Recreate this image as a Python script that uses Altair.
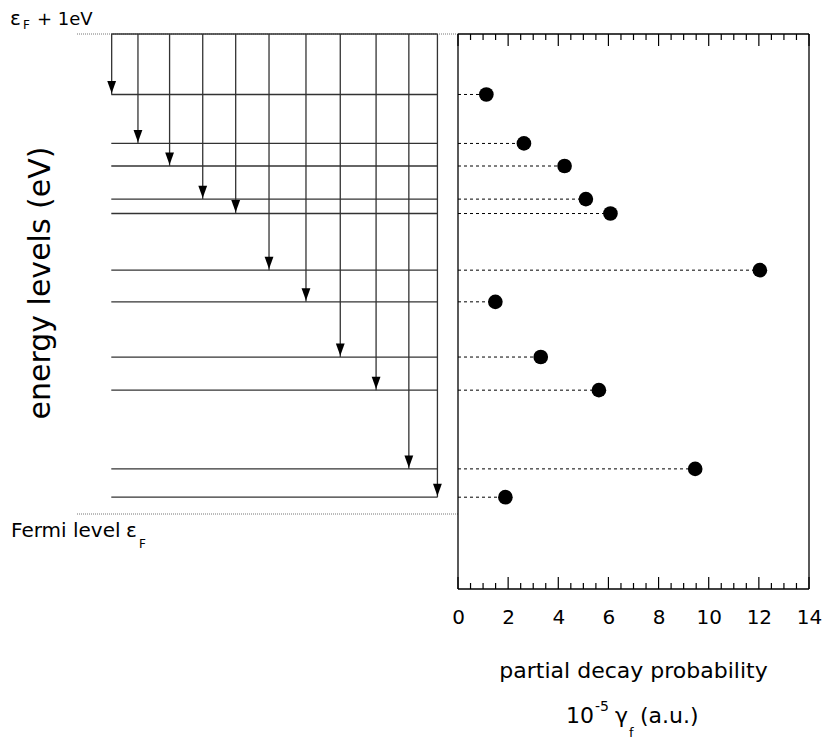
import altair as alt
import pandas as pd

# Energy of each level above the Fermi level (eV)
level_energy = [0.874, 0.772, 0.725, 0.656, 0.626, 0.508, 0.442, 0.327, 0.258, 0.094, 0.035]
# Partial decay probability of each level (10^-5 gamma_f, a.u.)
decay_prob = [1.13, 2.63, 4.25, 5.10, 6.08, 12.04, 1.49, 3.30, 5.62, 9.46, 1.89]
# Horizontal position of each transition arrow in the level scheme (0-100)
arrow_pos = [9.1, 16.0, 24.3, 33.0, 41.65, 50.4, 60.1, 69.1, 78.5, 87.1, 94.6]
# Extent of the drawn level lines in the scheme (0-100)
level_span = [9.0, 94.6]
# Reference energies: eF + 1 eV (start of all transitions) and the Fermi level
reference_energy = [1.0, 0.0]
# x-axis ticks of the probability panel
major_ticks = [0, 2, 4, 6, 8, 10, 12, 14]
minor_ticks = [0.5, 1.0, 1.5, 2.5, 3.0, 3.5, 4.5, 5.0, 5.5, 6.5, 7.0, 7.5,
               8.5, 9.0, 9.5, 10.5, 11.0, 11.5, 12.5, 13.0, 13.5]

y_title = "energy levels (eV)"
top_label = ["ε", "F", "+ 1eV"]
fermi_label = ["Fermi level", "ε", "F"]
x_title_1 = "partial decay probability"
x_title_2 = ["10", "-5", "γ", "f", "(a.u.)"]

FONT = "DejaVu Sans"
E_LOW, E_HIGH = -0.15625, 1.0
X_LOW, X_HIGH = 0, 14
PANEL_H = 555
LEFT_W = 381
RIGHT_W = 351
LINE = "#333"
# tick lengths expressed on the energy axis (12 px and 6 px)
MAJOR_LEN = 12 * (E_HIGH - E_LOW) / PANEL_H
MINOR_LEN = 6 * (E_HIGH - E_LOW) / PANEL_H

levels = pd.DataFrame({
    "energy": level_energy,
    "prob": decay_prob,
    "pos": arrow_pos,
    "x0": level_span[0],
    "x1": level_span[1],
    "top": reference_energy[0],
    "zero": 0.0,
})
refs = pd.DataFrame({"energy": reference_energy, "a": 0.0, "b": 100.0})
top_line = pd.DataFrame({"energy": [reference_energy[0]], "a": [level_span[0]], "b": [level_span[1]]})

# frame of the probability panel
frame_h = pd.DataFrame({"energy": [E_HIGH, E_LOW], "a": X_LOW, "b": X_HIGH})
frame_v = pd.DataFrame({"t": [X_LOW, X_HIGH], "e0": E_LOW, "e1": E_HIGH})

# inward frame ticks along the bottom and top edges
tick_rows = []
for t in major_ticks:
    tick_rows.append({"t": t, "e0": E_LOW, "e1": E_LOW + MAJOR_LEN})
    tick_rows.append({"t": t, "e0": E_HIGH - MAJOR_LEN, "e1": E_HIGH})
for t in minor_ticks:
    tick_rows.append({"t": t, "e0": E_LOW, "e1": E_LOW + MINOR_LEN})
    tick_rows.append({"t": t, "e0": E_HIGH - MINOR_LEN, "e1": E_HIGH})
frame_ticks = pd.DataFrame(tick_rows)

y_scale = alt.Scale(domain=[E_LOW, E_HIGH], nice=False, zero=False)
left_x = alt.Scale(domain=[0, 100], nice=False, zero=False)
right_x = alt.Scale(domain=[X_LOW, X_HIGH], nice=False, zero=False)
right_axis = alt.Axis(
    values=major_ticks, ticks=False, tickSize=0, domain=False, grid=False,
    labelFont=FONT, labelFontSize=20, labelColor="black", labelPadding=28,
    labelBaseline="middle", labelFlush=False, labelOverlap=False, title=None,
)


def text(s, x, y, size, align="left", angle=0):
    return alt.Chart(pd.DataFrame({"s": [s]})).mark_text(
        align=align, baseline="alphabetic", font=FONT, fontSize=size,
        color="black", angle=angle,
    ).encode(text="s:N", x=alt.value(x), y=alt.value(y))


# ---- level scheme (left) ----
ref_lines = alt.Chart(refs).mark_rule(color="#777", strokeWidth=1, strokeDash=[1, 1]).encode(
    x=alt.X("a:Q", scale=left_x, axis=None), x2="b:Q",
    y=alt.Y("energy:Q", scale=y_scale, axis=None),
)
start_line = alt.Chart(top_line).mark_rule(color=LINE, strokeWidth=1.3).encode(
    x=alt.X("a:Q", scale=left_x, axis=None), x2="b:Q",
    y=alt.Y("energy:Q", scale=y_scale, axis=None),
)
level_lines = alt.Chart(levels).mark_rule(color=LINE, strokeWidth=1.3).encode(
    x=alt.X("x0:Q", scale=left_x, axis=None), x2="x1:Q",
    y=alt.Y("energy:Q", scale=y_scale, axis=None),
)
shafts = alt.Chart(levels).mark_rule(color=LINE, strokeWidth=1.3).encode(
    x=alt.X("pos:Q", scale=left_x, axis=None),
    y=alt.Y("top:Q", scale=y_scale, axis=None), y2="energy:Q",
)
heads = alt.Chart(levels).mark_point(
    shape="M-0.36,-1.1L0.36,-1.1L0,-0.1Z", filled=True, color="black",
    size=600, opacity=1, strokeWidth=0,
).encode(
    x=alt.X("pos:Q", scale=left_x, axis=None),
    y=alt.Y("energy:Q", scale=y_scale, axis=None),
)
# white corner mark that fixes the outer origin of the figure
anchor = alt.Chart(pd.DataFrame({"k": [0]})).mark_rule(color="white", strokeWidth=1).encode(
    x=alt.value(-76.5), y=alt.value(-33.5), y2=alt.value(-30),
)

left = alt.layer(
    anchor, ref_lines, start_line, level_lines, shafts, heads,
    text(y_title, -27, 249, 30, align="center", angle=270),
    text(top_label[0], -67, -9, 20),
    text(top_label[1], -54, -5, 12),
    text(top_label[2], -40, -9, 18),
    text(fermi_label[0], -66, 503, 20),
    text(fermi_label[1], 49, 503, 20),
    text(fermi_label[2], 62, 514, 12),
).properties(width=LEFT_W, height=PANEL_H)

# ---- decay probabilities (right) ----
stems = alt.Chart(levels).mark_rule(color="black", strokeWidth=1, strokeDash=[3, 3]).encode(
    x=alt.X("zero:Q", scale=right_x, axis=right_axis), x2="prob:Q",
    y=alt.Y("energy:Q", scale=y_scale, axis=None),
)
dots = alt.Chart(levels).mark_circle(size=215, color="black", opacity=1).encode(
    x=alt.X("prob:Q", scale=right_x, axis=right_axis),
    y=alt.Y("energy:Q", scale=y_scale, axis=None),
)
frame_top_bottom = alt.Chart(frame_h).mark_rule(color="black", strokeWidth=1.3).encode(
    x=alt.X("a:Q", scale=right_x, axis=right_axis), x2="b:Q",
    y=alt.Y("energy:Q", scale=y_scale, axis=None),
)
frame_sides = alt.Chart(frame_v).mark_rule(color="black", strokeWidth=1.3).encode(
    x=alt.X("t:Q", scale=right_x, axis=right_axis),
    y=alt.Y("e0:Q", scale=y_scale, axis=None), y2="e1:Q",
)
ticks = alt.Chart(frame_ticks).mark_rule(color="black", strokeWidth=1.2).encode(
    x=alt.X("t:Q", scale=right_x, axis=right_axis),
    y=alt.Y("e0:Q", scale=y_scale, axis=None), y2="e1:Q",
)

right = alt.layer(
    stems, dots,
    text(x_title_1, RIGHT_W / 2, 644, 22, align="center"),
    text(x_title_2[0], 108, 689, 22),
    text(x_title_2[1], 137, 677, 14),
    text(x_title_2[2], 157, 689, 22),
    text(x_title_2[3], 171, 703, 13),
    text(x_title_2[4], 182, 689, 22),
    frame_top_bottom, frame_sides, ticks,
).properties(width=RIGHT_W, height=PANEL_H)

chart = alt.hconcat(left, right, spacing=0, bounds="flush").properties(
    padding=0, background="white",
).configure_view(strokeWidth=0)

chart.save("out.html", embed_options={"renderer": "svg", "actions": False})
